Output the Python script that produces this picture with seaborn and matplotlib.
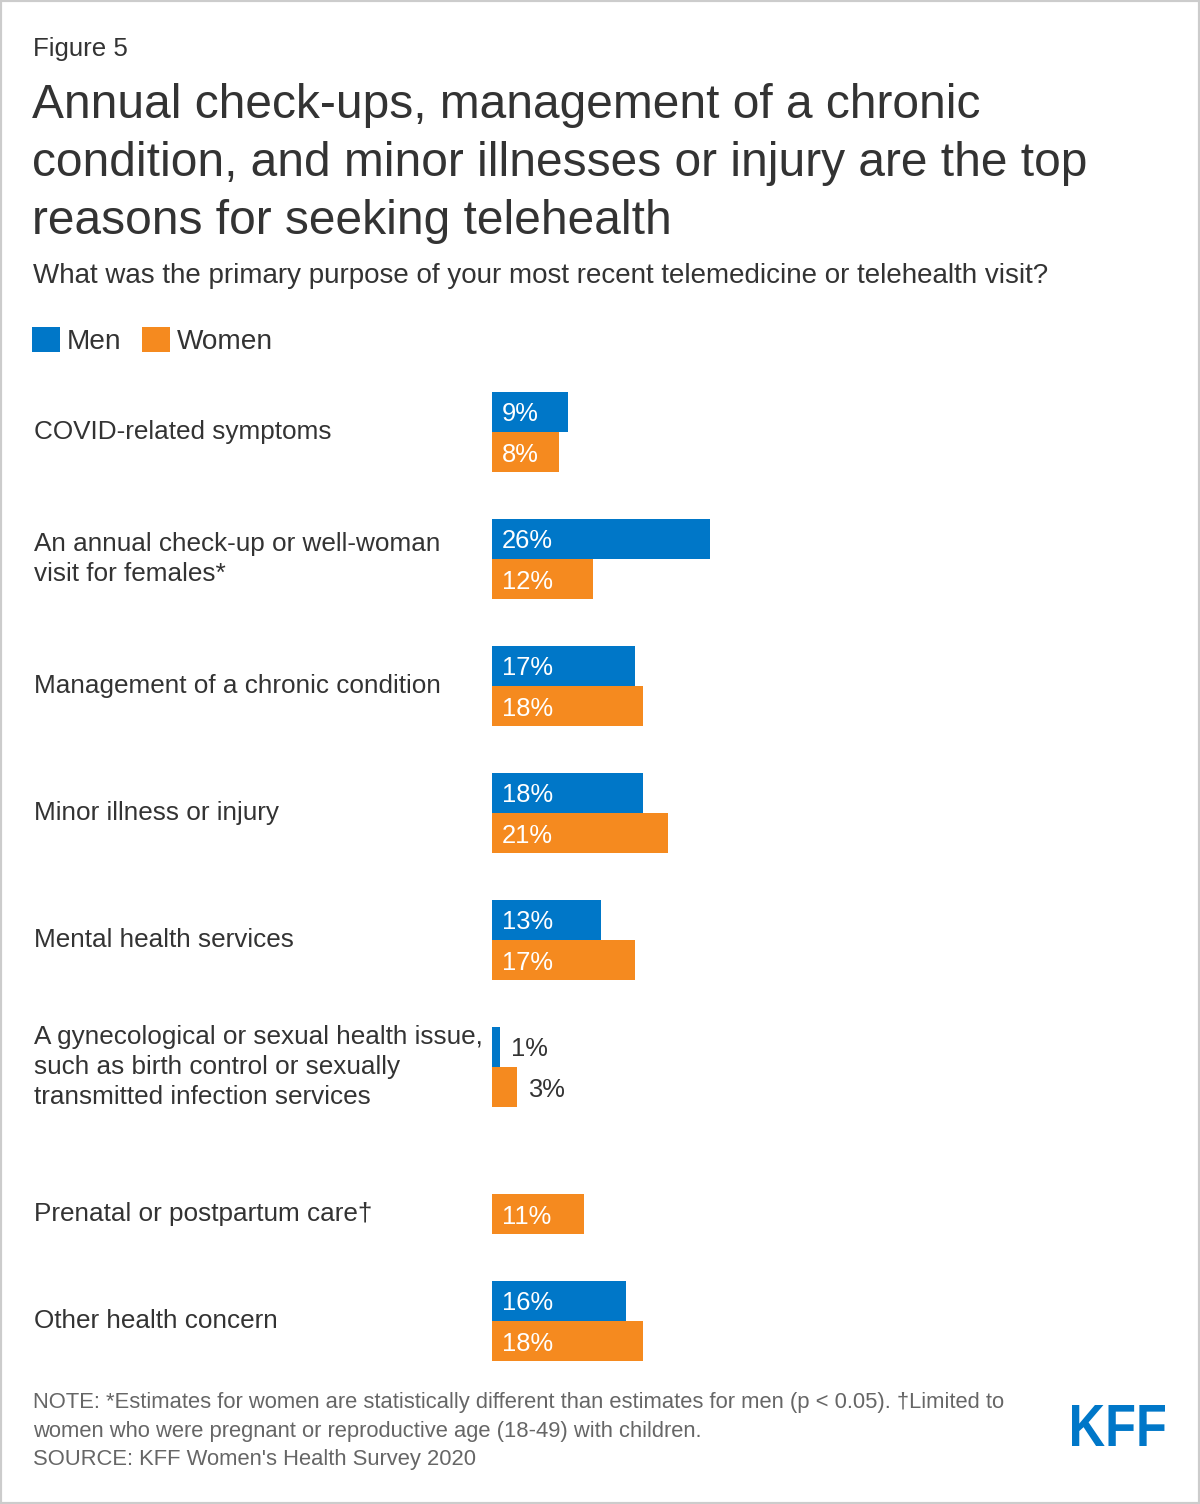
import numpy as np
import pandas as pd
import matplotlib.pyplot as plt
import matplotlib.transforms as mtransforms
from matplotlib.patches import Rectangle, PathPatch
from matplotlib.textpath import TextPath
from matplotlib.font_manager import FontProperties
import seaborn as sns

# Chart values
reasons = [
    "COVID-related symptoms",
    "An annual check-up or well-woman\nvisit for females*",
    "Management of a chronic condition",
    "Minor illness or injury",
    "Mental health services",
    "A gynecological or sexual health issue,\nsuch as birth control or sexually\ntransmitted infection services",
    "Prenatal or postpartum care\u2020",
    "Other health concern",
]
men = [9, 26, 17, 18, 13, 1, None, 16]
women = [8, 12, 18, 21, 17, 3, 11, 18]
groups = ["Men", "Women"]
colors = {"Men": "#0077C8", "Women": "#F58A1F"}

title_lines = [
    "Annual check-ups, management of a chronic",
    "condition, and minor illnesses or injury are the top",
    "reasons for seeking telehealth",
]
subtitle = "What was the primary purpose of your most recent telemedicine or telehealth visit?"
note_lines = [
    "NOTE: *Estimates for women are statistically different than estimates for men (p < 0.05). \u2020Limited to",
    "women who were pregnant or reproductive age (18-49) with children.",
    "SOURCE: KFF Women's Health Survey 2020",
]

rows = []
for r, m, w in zip(reasons, men, women):
    if m is not None:
        rows.append({"reason": r, "group": "Men", "pct": m})
    if w is not None:
        rows.append({"reason": r, "group": "Women", "pct": w})
df = pd.DataFrame(rows)

sns.set_theme(style="white")
plt.rcParams["font.family"] = ["Liberation Sans", "DejaVu Sans"]

W, H = 1200, 1504
fig = plt.figure(figsize=(W / 100, H / 100), dpi=100)
fig.patch.set_facecolor("white")

# axes placed so that 0% sits at x=492px and one % is ~8.4px
ax = fig.add_axes([492 / W, 1 - 1384.5 / H, 672 / W, 1016 / H])
sns.barplot(
    data=df, x="pct", y="reason", hue="group",
    order=reasons, hue_order=groups, palette=colors,
    orient="h", width=0.63, saturation=1, errorbar=None,
    linewidth=0, ax=ax,
)
ax.set_xlim(0, 80)
ax.set_ylim(len(reasons) - 0.5, -0.5)
ax.axis("off")

# legend at top left
sns.move_legend(
    ax, "upper left",
    bbox_to_anchor=(32 / W, 1 - 327 / H), bbox_transform=fig.transFigure,
    ncol=2, frameon=False, title=None, fontsize=20.2,
    handlelength=1.0, handleheight=1.0, handletextpad=0.25,
    columnspacing=0.72, borderpad=0, borderaxespad=0,
)
for t in ax.get_legend().get_texts():
    t.set_color("#333333")

# value labels, and collect the bar centres of each row
centres = {i: [] for i in range(len(reasons))}
for cont in ax.containers:
    for bar in cont:
        w = bar.get_width()
        if w is None or np.isnan(w) or w == 0:
            continue
        y = bar.get_y() + bar.get_height() / 2
        centres[int(round(y))].append(y)
        if w >= 5:
            ax.annotate(f"{w:.0f}%", xy=(0, y), xytext=(10, 0),
                        textcoords="offset pixels", ha="left",
                        va="center_baseline", fontsize=18.4, color="white")
        else:
            ax.annotate(f"{w:.0f}%", xy=(w, y), xytext=(11, 0),
                        textcoords="offset pixels", ha="left",
                        va="center_baseline", fontsize=18.4, color="#333333")

# category labels on the left, centred on the bars that are drawn
trans = mtransforms.blended_transform_factory(fig.transFigure, ax.transData)
for i, r in enumerate(reasons):
    yc = np.mean(centres[i]) if centres[i] else i
    ax.text(34 / W, yc, r, transform=trans, ha="left", va="center",
            fontsize=18.8, color="#333333", linespacing=1.3)

# header
fig.text(33 / W, 1 - 56 / H, "Figure 5", fontsize=18.6, va="baseline", color="#333333")
for k, line in enumerate(title_lines):
    fig.text(32 / W, 1 - (118 + 58 * k) / H, line, fontsize=34.5,
             va="baseline", color="#333333")
fig.text(33 / W, 1 - 283 / H, subtitle, fontsize=20, va="baseline", color="#333333")

# notes
for k, line in enumerate(note_lines):
    fig.text(33 / W, 1 - (1408 + 28.5 * k) / H, line, fontsize=15.8,
             va="baseline", color="#666666")

# KFF wordmark, squeezed to the condensed look of the logo
fp = FontProperties(family="Liberation Sans", weight="bold")
tp = TextPath((0, 0), "KFF", size=1, prop=fp)
bb = tp.get_extents()
logo_tr = (mtransforms.Affine2D().translate(-bb.x0, -bb.y0)
           .scale(0.93 / bb.width, 0.41 / bb.height)
           .translate(10.72, (H - 1446) / 100) + fig.dpi_scale_trans)
fig.add_artist(PathPatch(tp, transform=logo_tr, facecolor="#0077C8",
                         edgecolor="none"))

# light frame
fig.add_artist(Rectangle((0, 0), 1, 1, transform=fig.transFigure, fill=False,
                         edgecolor="#cccccc", linewidth=3, zorder=10))

fig.savefig("out.png", dpi=100)
